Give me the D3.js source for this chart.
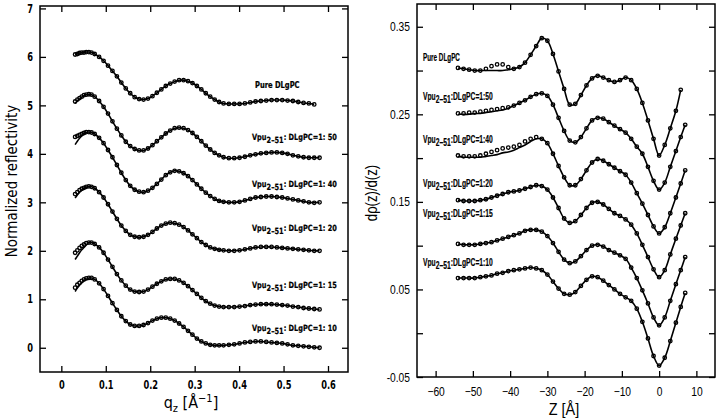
<!DOCTYPE html>
<html><head><meta charset="utf-8">
<script src="https://cdn.jsdelivr.net/npm/d3@7"></script>
<style>body{margin:0;background:#fff}svg{display:block}</style>
</head><body>
<svg id="c" width="720" height="418"></svg>
<script>
// ---------- LEFT PANEL DATA (normalized reflectivity vs qz) ----------
const qz = [0.031,0.036,0.041,0.046,0.051,0.056,0.062,0.068,0.075,0.085,0.095,0.105,0.115,0.125,0.135,0.145,0.155,0.165,0.175,0.185,0.195,0.205,0.215,0.225,0.235,0.245,0.255,0.265,0.275,0.285,0.295,0.305,0.315,0.325,0.335,0.345,0.355,0.365,0.377,0.389,0.401,0.413,0.425,0.437,0.449,0.461,0.473,0.485,0.497,0.509,0.521,0.533,0.545,0.557,0.569,0.581];
const reflPure = [6.05,6.06,6.08,6.09,6.09,6.10,6.10,6.09,6.06,6.00,5.92,5.82,5.71,5.60,5.47,5.35,5.25,5.17,5.13,5.12,5.14,5.19,5.26,5.33,5.40,5.45,5.49,5.52,5.52,5.50,5.46,5.40,5.33,5.25,5.18,5.12,5.07,5.04,5.03,5.03,5.03,5.04,5.06,5.08,5.09,5.10,5.11,5.11,5.11,5.10,5.09,5.07,5.05,5.04,5.02,null];
const refl50 = [5.08,5.12,5.15,5.18,5.21,5.22,5.23,5.22,5.18,5.09,4.97,4.83,4.67,4.52,4.38,4.25,4.16,4.10,4.07,4.07,4.11,4.18,4.26,4.34,4.42,4.48,4.53,4.54,4.53,4.49,4.43,4.35,4.26,4.17,4.09,4.02,3.97,3.93,3.91,3.91,3.92,3.94,3.97,3.99,4.01,4.02,4.03,4.03,4.02,4.00,3.97,3.95,3.93,3.92,3.92,3.92];
const refl40 = [4.35,4.37,4.39,4.41,4.43,4.45,4.45,4.44,4.41,4.33,4.22,4.08,3.93,3.77,3.61,3.46,3.34,3.26,3.22,3.21,3.24,3.30,3.38,3.47,3.56,3.62,3.65,3.64,3.60,3.54,3.46,3.37,3.28,3.20,3.13,3.07,3.03,3.01,3.00,3.00,3.01,3.04,3.07,3.10,3.11,3.12,3.12,3.11,3.10,3.08,3.06,3.04,3.02,3.00,2.99,3.00];
const refl20 = [3.17,3.21,3.25,3.28,3.30,3.32,3.33,3.32,3.29,3.21,3.10,2.96,2.81,2.66,2.52,2.41,2.33,2.29,2.28,2.29,2.33,2.39,2.46,2.52,2.56,2.58,2.57,2.54,2.49,2.42,2.34,2.26,2.18,2.12,2.07,2.04,2.02,2.01,2.00,2.00,2.01,2.03,2.05,2.07,2.08,2.08,2.08,2.07,2.06,2.05,2.04,2.03,2.02,2.01,2.00,2.00];
const refl15 = [1.96,2.01,2.06,2.10,2.13,2.16,2.17,2.17,2.14,2.07,1.96,1.82,1.67,1.52,1.39,1.28,1.20,1.16,1.15,1.16,1.20,1.26,1.32,1.37,1.41,1.42,1.42,1.39,1.34,1.27,1.19,1.11,1.03,0.96,0.91,0.87,0.85,0.84,0.84,0.84,0.85,0.86,0.88,0.89,0.90,0.90,0.90,0.89,0.88,0.87,0.85,0.84,0.82,0.81,0.80,0.79];
const refl10 = [1.24,1.30,1.34,1.38,1.41,1.43,1.44,1.44,1.41,1.33,1.21,1.07,0.92,0.78,0.65,0.55,0.48,0.45,0.45,0.47,0.51,0.56,0.60,0.62,0.62,0.60,0.56,0.50,0.43,0.35,0.27,0.19,0.13,0.09,0.06,0.05,0.05,0.05,0.06,0.07,0.09,0.11,0.12,0.13,0.13,0.12,0.11,0.10,0.09,0.07,0.05,0.04,0.03,0.02,0.01,0.00];
// fitted curve where it departs from the first data points
const fitReflPure = [];
const fitRefl50 = [5.04,5.09,5.13,5.17,5.20];
const fitRefl40 = [4.19,4.26,4.32,4.37,4.41,4.44];
const fitRefl20 = [3.09,3.15,3.21,3.25,3.28,3.31];
const fitRefl15 = [1.82,1.89,1.96,2.02,2.07,2.12];
const fitRefl10 = [1.16,1.23,1.29,1.34,1.38,1.41];

// ---------- RIGHT PANEL DATA (d rho/dz vs Z) ----------
const zA = [-54,-52.5,-51,-49.5,-48,-46.5,-45,-43.5,-42,-40.5,-39,-37.5,-36,-34.5,-33,-31.5,-30,-28.5,-27,-25.5,-24,-22.5,-21,-19.5,-18,-16.5,-15,-13.5,-12,-10.5,-9,-7.5,-6,-4.5,-3,-1.5,0,1.5,3,4.5,5.8,7];
const drhoPure = [0.303,0.302,0.301,0.300,0.300,0.302,0.305,0.307,0.307,0.304,0.302,0.304,0.309,0.318,0.328,0.337,0.334,0.319,0.299,0.279,0.261,0.262,0.272,0.283,0.291,0.294,0.292,0.289,0.287,0.289,0.292,0.289,0.279,0.263,0.243,0.222,0.203,0.215,0.234,0.254,0.278,null];
const drho50 = [0.251,0.251,0.252,0.252,0.253,0.254,0.255,0.256,0.257,0.258,0.260,0.263,0.266,0.270,0.273,0.274,0.271,0.261,0.246,0.231,0.220,0.218,0.224,0.234,0.243,0.246,0.245,0.241,0.237,0.233,0.229,0.222,0.213,0.205,0.190,0.174,0.164,0.172,0.190,0.208,0.224,0.238];
const drho40 = [0.203,0.202,0.202,0.202,0.203,0.205,0.207,0.209,0.211,0.212,0.213,0.215,0.219,0.222,0.224,0.222,0.217,0.205,0.191,0.178,0.169,0.169,0.176,0.186,0.195,0.199,0.197,0.193,0.189,0.185,0.181,0.172,0.160,0.148,0.135,0.122,0.114,0.121,0.137,0.155,0.171,0.186];
const drho20 = [0.152,0.151,0.151,0.151,0.152,0.153,0.155,0.157,0.159,0.161,0.162,0.163,0.165,0.167,0.169,0.168,0.164,0.155,0.143,0.131,0.126,0.128,0.135,0.143,0.149,0.150,0.147,0.142,0.137,0.134,0.130,0.124,0.114,0.101,0.087,0.073,0.064,0.072,0.090,0.108,0.123,0.137];
const drho15 = [0.102,0.101,0.101,0.101,0.102,0.103,0.104,0.106,0.108,0.110,0.112,0.114,0.117,0.118,0.118,0.116,0.111,0.103,0.093,0.084,0.080,0.082,0.088,0.095,0.100,0.101,0.099,0.095,0.092,0.089,0.085,0.075,0.063,0.049,0.034,0.018,0.009,0.018,0.037,0.056,0.072,0.087];
const drho10 = [0.063,0.063,0.063,0.063,0.064,0.065,0.066,0.068,0.069,0.071,0.072,0.073,0.074,0.075,0.074,0.072,0.067,0.059,0.051,0.045,0.044,0.047,0.054,0.061,0.065,0.064,0.060,0.055,0.050,0.045,0.041,0.037,0.028,0.013,-0.006,-0.026,-0.037,-0.028,-0.009,0.012,0.030,0.046];
const fitDrhoPure = [0.303,0.302,0.301,0.300,0.300,0.300,0.300,0.300,0.300,0.301,0.302,0.304];
const fitDrho50 = [0.250,0.250,0.250,0.251,0.251,0.252,0.253,0.254,0.255,0.257];
const fitDrho40 = [0.202,0.201,0.201,0.201,0.201,0.202,0.203,0.204,0.206,0.207,0.209,0.212,0.215,0.219,0.222];
const fitDrho20 = [];
const fitDrho15 = [];
const fitDrho10 = [];

// ---------- labels and ticks ----------
const sampleNames = ["Pure DLgPC","1:50","1:40","1:20","1:15","1:10"];
const leftXTicks = [0,0.1,0.2,0.3,0.4,0.5,0.6];
const leftYTicks = [0,1,2,3,4,5,6,7];
const rightXTicks = [-60,-50,-40,-30,-20,-10,0,10];
const rightYTicks = [-0.05,0,0.05,0.1,0.15,0.2,0.25,0.3,0.35];
const rightYLabels = ["-0.05","","0.05","","0.15","","0.25","","0.35"];

const svg = d3.select("#c");
const SANS = "'Liberation Sans',Arial,sans-serif";
const COND = "'DejaVu Sans Condensed','DejaVu Sans',sans-serif";

// squeeze single-run text horizontally (narrow typeface look)
function squeeze(sel, k){
  sel.each(function(){
    const w = this.getComputedTextLength();
    if(w>0){ d3.select(this).attr("textLength", w*k).attr("lengthAdjust","spacingAndGlyphs"); }
  });
}

function drawSeries(g, xs, vals, fit, xS, yS, r){
  const lineData = xs.map((x,i)=>({x, y: i < fit.length ? fit[i] : vals[i]})).filter(d=>d.y!=null);
  g.append("path").datum(lineData)
    .attr("fill","none").attr("stroke","#000").attr("stroke-width",1.6)
    .attr("d", d3.line().x(d=>xS(d.x)).y(d=>yS(d.y)).curve(d3.curveCatmullRom.alpha(0.5)));
  const pts = xs.map((x,i)=>({x, y: vals[i]})).filter(d=>d.y!=null);
  g.selectAll(null).data(pts).enter().append("circle")
    .attr("cx", d=>xS(d.x)).attr("cy", d=>yS(d.y)).attr("r", r)
    .attr("fill","none").attr("stroke","#000").attr("stroke-width",1.3);
}

function frameAxes(xS, yS, xTicks, yTicks, yFmt, xFmt, font, fsize, weight, k, xPad, yPad){
  const [x0,x1] = xS.range(), [y0,y1] = yS.range();
  const g = svg.append("g");
  g.append("g").attr("transform",`translate(0,${y0})`)
    .call(d3.axisBottom(xS).tickValues(xTicks).tickSize(-6).tickPadding(xPad).tickFormat(xFmt));
  g.append("g").attr("transform",`translate(0,${y1})`)
    .call(d3.axisTop(xS).tickValues(xTicks).tickSize(-6).tickFormat(""));
  g.append("g").attr("transform",`translate(${x0},0)`)
    .call(d3.axisLeft(yS).tickValues(yTicks).tickSize(-6).tickPadding(yPad).tickFormat(yFmt));
  g.append("g").attr("transform",`translate(${x1},0)`)
    .call(d3.axisRight(yS).tickValues(yTicks).tickSize(-6).tickFormat(""));
  g.selectAll(".domain").remove();
  g.selectAll(".tick line").attr("stroke","#000").attr("stroke-width",1.3);
  const txt = g.selectAll(".tick text").attr("font-family",font).attr("font-size",fsize)
    .attr("font-weight",weight).attr("fill","#000");
  squeeze(txt, k);
  g.append("rect").attr("x",x0).attr("y",y1).attr("width",x1-x0).attr("height",y0-y1)
    .attr("fill","none").attr("stroke","#000").attr("stroke-width",1.5);
}

// label with subscript, compressed horizontally to a target width with a scale transform
function sampleLabel(x, y, name, sep, font, fs, width, pureWidth){
  const g = svg.append("g");
  const t = g.append("text").attr("x",0).attr("y",0)
    .attr("font-family",font).attr("font-size",fs).attr("font-weight","bold")
    .attr("fill","#000").attr("stroke","#000").attr("stroke-width",0.2);
  let target;
  if(name.indexOf(":")<0){
    t.text(name); target = pureWidth;
  } else {
    t.append("tspan").text("Vpu");
    t.append("tspan").attr("dy",3).text("2–51");
    t.append("tspan").attr("dy",-3).text(sep + "DLgPC=" + (sep===": " ? name.replace(":", ": ") : name));
    target = width;
  }
  const w = t.node().getBBox().width;
  g.attr("transform",`translate(${x},${y}) scale(${target/w},1)`);
}

// ================= LEFT PANEL =================
const xL = d3.scaleLinear().domain([-0.048,0.645]).range([40,348]);
const yL = d3.scaleLinear().domain([-0.5,7.05]).range([372,6]);
const gL = svg.append("g");
const leftSeries = [[reflPure,fitReflPure],[refl50,fitRefl50],[refl40,fitRefl40],[refl20,fitRefl20],[refl15,fitRefl15],[refl10,fitRefl10]];
leftSeries.forEach(([v,f])=>drawSeries(gL, qz, v, f, xL, yL, 1.75));
frameAxes(xL, yL, leftXTicks, leftYTicks, d3.format("d"), d=> d===0 ? "0" : d3.format(".1f")(d), COND, 11.5, "bold", 0.8, 9, 7);

const leftLabelPos = [[255,88],[252,140],[252,187],[252,231],[252,288],[252,331]];
sampleNames.forEach((name,i)=> sampleLabel(leftLabelPos[i][0], leftLabelPos[i][1], name, ": ", COND, 8.5, 85, 45));

svg.append("text").attr("transform","translate(17,181) rotate(-90)").attr("text-anchor","middle")
  .attr("font-family",COND).attr("font-size",15).text("Normalized reflectivity");
const xt = svg.append("text").attr("x",191).attr("y",408).attr("text-anchor","middle")
  .attr("font-family",COND).attr("font-size",16);
xt.append("tspan").text("q");
xt.append("tspan").attr("dy",4).attr("font-size",11).text("z");
xt.append("tspan").attr("dy",-4).text("  [Å");
xt.append("tspan").attr("dy",-6).attr("font-size",11).text("−1");
xt.append("tspan").attr("dy",6).text("]");

// ================= RIGHT PANEL =================
const xR = d3.scaleLinear().domain([-65,15]).range([417,715]);
const yR = d3.scaleLinear().domain([-0.05,0.376]).range([377,4]);
const gR = svg.append("g");
const rightSeries = [[drhoPure,fitDrhoPure],[drho50,fitDrho50],[drho40,fitDrho40],[drho20,fitDrho20],[drho15,fitDrho15],[drho10,fitDrho10]];
rightSeries.forEach(([v,f])=>drawSeries(gR, zA, v, f, xR, yR, 1.75));
frameAxes(xR, yR, rightXTicks, rightYTicks, (d,i)=>rightYLabels[i], d3.format("d"), SANS, 12.5, "normal", 0.82, 10, 7);

const rightLabelPos = [[423,61],[423,100],[423,143],[423,187],[423,217],[423,266]];
sampleNames.forEach((name,i)=> sampleLabel(rightLabelPos[i][0], rightLabelPos[i][1], name, ":", SANS, 11, 70, 37));

const yt = svg.append("text").attr("transform","translate(377,193) rotate(-90)").attr("text-anchor","middle")
  .attr("font-family",SANS).attr("font-size",16).text("dρ(z)/d(z)");
squeeze(yt, 0.82);
const zt = svg.append("text").attr("x",564).attr("y",415).attr("text-anchor","middle")
  .attr("font-family",SANS).attr("font-size",17).text("Z  [Å]");
squeeze(zt, 0.85);
</script>
</body></html>
